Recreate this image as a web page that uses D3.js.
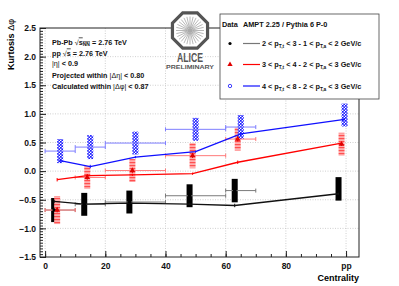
<!DOCTYPE html>
<html>
<head>
<meta charset="utf-8">
<script src="https://cdn.jsdelivr.net/npm/d3@7"></script>
<style>
body { margin: 0; background: #fff; }
text { font-family: "Liberation Sans", Arial, sans-serif; }
</style>
</head>
<body>
<script>
// centrality bins (pp drawn at the right end)
const binLabels = ["0-10%", "10-20%", "20-40%", "40-60%", "60-70%", "pp"];
const binCenter = [5, 15, 30, 50, 65, 99.5];
const binLow = [0, 10, 20, 40, 60, 99.5];
const binHigh = [10, 20, 40, 60, 70, 99.5];

// data: kurtosis in delta phi, with systematic errors
const kurtLowPt = [-0.68, -0.58, -0.54, -0.43, -0.34, -0.31];
const sysLowPt = [0.21, 0.2, 0.2, 0.2, 0.205, 0.205];
const kurtMidPt = [-0.68, -0.11, 0.01, 0.27, 0.56, 0.47];
const sysMidPt = [0.245, 0.2, 0.2, 0.22, 0.2, 0.2];
const statMidPt = [0.04, 0.04, 0.04, 0.04, 0.04, 0.03];
const kurtHighPt = [0.35, 0.42, 0.49, 0.73, 0.77, 0.98];
const sysHighPt = [0.21, 0.21, 0.2, 0.2, 0.21, 0.2];

// AMPT 2.25 / Pythia 6 P-0
const amptLowPt = [-0.53, -0.575, -0.56, -0.575, -0.6, -0.395];
const amptMidPt = [-0.15, -0.08, -0.065, -0.045, 0.155, 0.49];
const amptHighPt = [0.185, 0.08, 0.245, 0.34, 0.65, 0.905];
const amptErr = [0.03, 0.03, 0.02, 0.02, 0.03, 0.02];

const legendRanges = [["2", "3", "1", "2"], ["3", "4", "2", "3"], ["4", "8", "2", "3"]];
const yMajor = [-1.5, -1.0, -0.5, 0.0, 0.5, 1.0, 1.5, 2.0, 2.5];
const xMajor = [0, 20, 40, 60, 80, 100];

const svg = d3.select("body").append("svg")
  .attr("width", 399)
  .attr("height", 286);

const defs = svg.append("defs");
const pr = defs.append("pattern").attr("id", "redhatch")
  .attr("patternUnits", "userSpaceOnUse").attr("width", 4).attr("height", 3);
pr.append("rect").attr("width", 4).attr("height", 3).attr("fill", "#ffb0b0");
pr.append("rect").attr("width", 4).attr("height", 1.2).attr("fill", "#ff5050");
const pb = defs.append("pattern").attr("id", "bluecheck")
  .attr("patternUnits", "userSpaceOnUse").attr("width", 3).attr("height", 3);
pb.append("rect").attr("width", 3).attr("height", 3).attr("fill", "#fff");
pb.append("rect").attr("width", 1.7).attr("height", 1.7).attr("fill", "#1a1aff");
pb.append("rect").attr("x", 1.4).attr("y", 1.4).attr("width", 1.6).attr("height", 1.6).attr("fill", "#1a1aff");

const x = d3.scaleLinear().domain([-1.7, 104.3]).range([40, 359]);
const y = d3.scaleLinear().domain([-1.5, 2.5]).range([257, 28]);

// grid
const grid = svg.append("g").attr("stroke", "#c4c4c4").attr("stroke-dasharray", "1,1.5").attr("stroke-width", 0.8);
grid.selectAll(".gx").data(xMajor).enter().append("line")
  .attr("x1", d => x(d)).attr("x2", d => x(d)).attr("y1", 28).attr("y2", 257);
grid.selectAll(".gy").data(yMajor.slice(1, -1)).enter().append("line")
  .attr("x1", 40).attr("x2", 359).attr("y1", d => y(d)).attr("y2", d => y(d));

// axes with inward ticks
svg.append("g").attr("transform", "translate(40,0)")
  .call(d3.axisLeft(y).tickValues(yMajor).tickSize(-6).tickPadding(4).tickFormat(d3.format(".1f")));
svg.append("g").attr("transform", "translate(40,0)")
  .call(d3.axisLeft(y).tickValues(d3.range(-1.5, 2.5001, 0.05)).tickSize(-3).tickFormat(""));
svg.append("g").attr("transform", "translate(0,257)")
  .call(d3.axisBottom(x).tickValues(xMajor).tickSize(-6).tickPadding(6).tickFormat(d => d === 100 ? "pp" : d));
svg.append("g").attr("transform", "translate(0,257)")
  .call(d3.axisBottom(x).tickValues(d3.range(0, 101, 5)).tickSize(-3).tickFormat(""));
svg.selectAll(".domain").remove();
svg.selectAll(".tick line").attr("stroke", "#222");
svg.selectAll(".tick text").style("font-size", "8.5px").style("font-weight", "bold").attr("fill", "#111");

svg.append("rect").attr("x", 40).attr("y", 28).attr("width", 319).attr("height", 229)
  .attr("fill", "none").attr("stroke", "#222").attr("stroke-width", 1);

svg.append("text").attr("x", 359).attr("y", 281).attr("text-anchor", "end")
  .style("font-size", "9px").style("font-weight", "bold").text("Centrality");

const yt = svg.append("text").attr("transform", "translate(14,19) rotate(-90)")
  .attr("text-anchor", "end").style("font-size", "9px").style("font-weight", "bold");
yt.append("tspan").text("Kurtosis ");
yt.append("tspan").style("font-weight", "normal").text("Δφ");

const series = [
  { vals: kurtLowPt, sys: sysLowPt, model: amptLowPt, dx: -2, bar: "#7a7a7a", line: "#111", fill: "#000" },
  { vals: kurtMidPt, sys: sysMidPt, model: amptMidPt, dx: -1, bar: "#ff7a7a", line: "#f00", fill: "url(#redhatch)" },
  { vals: kurtHighPt, sys: sysHighPt, model: amptHighPt, dx: 0, bar: "#7f7fff", line: "#1010ff", fill: "url(#bluecheck)" }
];
const idx = d3.range(binCenter.length);

// systematic boxes
series.forEach(s => {
  svg.append("g").selectAll("rect").data(idx).enter().append("rect")
    .attr("x", i => x(binCenter[i] + s.dx) - 3)
    .attr("width", 6)
    .attr("y", i => y(s.vals[i] + s.sys[i]))
    .attr("height", i => y(s.vals[i] - s.sys[i]) - y(s.vals[i] + s.sys[i]))
    .attr("fill", s.fill);
});

// bin-width bars
series.forEach(s => {
  const g = svg.append("g").attr("stroke", s.bar).attr("stroke-width", 1);
  const ii = idx.filter(i => binHigh[i] > binLow[i]);
  g.selectAll(".h").data(ii).enter().append("line")
    .attr("x1", i => x(binLow[i])).attr("x2", i => x(binHigh[i]))
    .attr("y1", i => y(s.vals[i])).attr("y2", i => y(s.vals[i]));
  g.selectAll(".c1").data(ii).enter().append("line")
    .attr("x1", i => x(binLow[i])).attr("x2", i => x(binLow[i]))
    .attr("y1", i => y(s.vals[i]) - 2).attr("y2", i => y(s.vals[i]) + 2);
  g.selectAll(".c2").data(ii).enter().append("line")
    .attr("x1", i => x(binHigh[i])).attr("x2", i => x(binHigh[i]))
    .attr("y1", i => y(s.vals[i]) - 2).attr("y2", i => y(s.vals[i]) + 2);
});

// model curves
series.forEach(s => {
  svg.append("path").datum(idx)
    .attr("fill", "none").attr("stroke", s.line).attr("stroke-width", 1.3)
    .attr("d", d3.line().x(i => x(binCenter[i] + s.dx)).y(i => y(s.model[i])));
  svg.append("g").selectAll("line").data(idx).enter().append("line")
    .attr("stroke", s.line).attr("stroke-width", 1)
    .attr("x1", i => x(binCenter[i] + s.dx)).attr("x2", i => x(binCenter[i] + s.dx))
    .attr("y1", i => y(s.model[i] + amptErr[i])).attr("y2", i => y(s.model[i] - amptErr[i]));
});

// markers
svg.append("g").selectAll("circle").data(idx).enter().append("circle")
  .attr("cx", i => x(binCenter[i] + series[0].dx)).attr("cy", i => y(kurtLowPt[i]))
  .attr("r", 1.8).attr("fill", "#000");
svg.append("g").selectAll("line").data(idx).enter().append("line")
  .attr("stroke", "#d00000").attr("stroke-width", 1)
  .attr("x1", i => x(binCenter[i] + series[1].dx)).attr("x2", i => x(binCenter[i] + series[1].dx))
  .attr("y1", i => y(kurtMidPt[i] + statMidPt[i])).attr("y2", i => y(kurtMidPt[i] - statMidPt[i]));
svg.append("g").selectAll("path").data(idx).enter().append("path")
  .attr("transform", i => `translate(${x(binCenter[i] + series[1].dx)},${y(kurtMidPt[i])})`)
  .attr("d", d3.symbol(d3.symbolTriangle, 14)).attr("fill", "#e00000");

// text block
const info = svg.append("g").style("font-size", "7.2px").style("font-weight", "bold").attr("fill", "#111");
const t1 = info.append("text").attr("x", 52).attr("y", 44.5);
t1.append("tspan").text("Pb-Pb ");
t1.append("tspan").style("font-weight", "normal").text("√");
t1.append("tspan").style("text-decoration", "overline").text("s");
t1.append("tspan").attr("dy", 1.5).style("font-size", "5px").style("text-decoration", "overline").text("NN");
t1.append("tspan").attr("dy", -1.5).text(" = 2.76 TeV");
const t2 = info.append("text").attr("x", 52).attr("y", 55.5);
t2.append("tspan").text("pp ");
t2.append("tspan").style("font-weight", "normal").text("√");
t2.append("tspan").style("text-decoration", "overline").text("s");
t2.append("tspan").text(" = 2.76 TeV");
const t3 = info.append("text").attr("x", 52).attr("y", 66);
t3.append("tspan").style("font-weight", "normal").text("|η|");
t3.append("tspan").text(" < 0.9");
const t4 = info.append("text").attr("x", 52).attr("y", 77.5);
t4.append("tspan").text("Projected within ");
t4.append("tspan").style("font-weight", "normal").text("|Δη|");
t4.append("tspan").text(" < 0.80");
const t5 = info.append("text").attr("x", 52).attr("y", 89);
t5.append("tspan").text("Calculated within ");
t5.append("tspan").style("font-weight", "normal").text("|Δφ|");
t5.append("tspan").text(" < 0.87");

// ALICE preliminary logo
const logo = svg.append("g").attr("transform", "translate(190,30.5)");
logo.append("polygon")
  .attr("points", d3.range(8).map(k => {
    const a = (22.5 + 45 * k) * Math.PI / 180;
    return [19 * Math.cos(a), 19 * Math.sin(a)].join(",");
  }).join(" "))
  .attr("fill", "#fff").attr("stroke", "#555").attr("stroke-width", 3.2);
logo.append("g").selectAll("line").data(d3.range(28)).enter().append("line")
  .attr("x1", k => 2.5 * Math.cos(k * Math.PI / 14)).attr("y1", k => 2.5 * Math.sin(k * Math.PI / 14))
  .attr("x2", k => 14 * Math.cos(k * Math.PI / 14)).attr("y2", k => 14 * Math.sin(k * Math.PI / 14))
  .attr("stroke", "#888").attr("stroke-width", 0.6);
logo.append("circle").attr("r", 2.5).attr("fill", "#aaa");
svg.append("text").attr("x", 190).attr("y", 61.5).attr("text-anchor", "middle")
  .attr("textLength", 26).attr("lengthAdjust", "spacingAndGlyphs")
  .style("font-size", "13px").style("font-weight", "bold").attr("fill", "#555").text("ALICE");
svg.append("text").attr("x", 190).attr("y", 69).attr("text-anchor", "middle")
  .attr("textLength", 48).attr("lengthAdjust", "spacingAndGlyphs")
  .style("font-size", "5.5px").style("font-weight", "bold").attr("fill", "#555").text("PRELIMINARY");

// legend
const leg = svg.append("g").style("font-size", "7.3px").style("font-weight", "bold").attr("fill", "#111");
leg.append("rect").attr("x", 220).attr("y", 14).attr("width", 159).attr("height", 85)
  .attr("fill", "#fff").attr("stroke", "#444").attr("stroke-width", 0.8);
leg.append("text").attr("x", 222).attr("y", 26.5).text("Data");
leg.append("text").attr("x", 243).attr("y", 26.5).text("AMPT 2.25 / Pythia 6 P-0");
const rowY = [43.5, 64.5, 86];
const legLine = ["#777", "#f00", "#1010ff"];
legendRanges.forEach((r, i) => {
  leg.append("line").attr("x1", 243).attr("x2", 260).attr("y1", rowY[i]).attr("y2", rowY[i])
    .attr("stroke", legLine[i]).attr("stroke-width", 1.2);
  const t = leg.append("text").attr("x", 262).attr("y", rowY[i] + 2.5);
  t.append("tspan").text(`${r[0]} < p`);
  t.append("tspan").attr("dy", 2).style("font-size", "4.8px").text("T,t");
  t.append("tspan").attr("dy", -2).text(` < ${r[1]} - ${r[2]} < p`);
  t.append("tspan").attr("dy", 2).style("font-size", "4.8px").text("T,a");
  t.append("tspan").attr("dy", -2).text(` < ${r[3]}  GeV/c`);
});
leg.append("circle").attr("cx", 230).attr("cy", rowY[0]).attr("r", 1.6).attr("fill", "#000");
leg.append("path").attr("transform", `translate(230,${rowY[1]})`)
  .attr("d", d3.symbol(d3.symbolTriangle, 12)).attr("fill", "#e00000");
leg.append("circle").attr("cx", 230).attr("cy", rowY[2]).attr("r", 1.7)
  .attr("fill", "none").attr("stroke", "#1010ff").attr("stroke-width", 0.8);
</script>
</body>
</html>
